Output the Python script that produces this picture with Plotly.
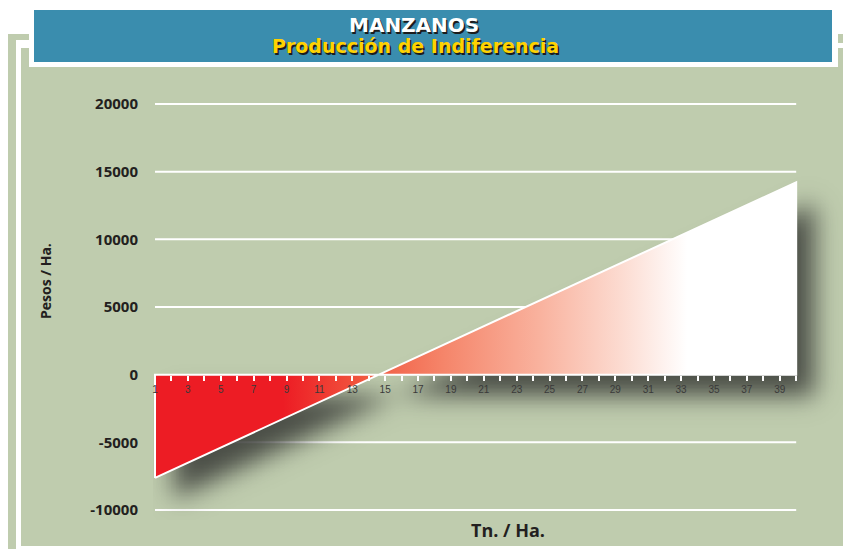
import numpy as np
import plotly.graph_objects as go

# datos (recta de indiferencia)
tn_ha = [1, 40]
pesos_ha = [-7630, 14220]

x_ticks = list(range(1, 41))
x_labels = [str(v) if v % 2 == 1 else "" for v in x_ticks]
y_ticks = [20000, 15000, 10000, 5000, 0, -5000, -10000]
y_labels = ["20000", "15000", "10000", "5000", "0", "-5000", "-10000"]
y_grid = [20000, 15000, 10000, 5000, -5000, -10000]

# la pagina deja 8px de margen en el body
OFF = 8
W, H = 851 - OFF, 549 - OFF
L, R, T, B = 145, 5, 87, 29
PW, PH = W - L - R, H - T - B
x_range = [0.878, 43.03]
y_range = [-10739, 20665]


def px(x):
    # x en pixeles de la imagen de referencia -> paper
    return (x - OFF - L) / PW


def py(y):
    return (H - B - (y - OFF)) / PH


green = "#bfccae"
blue = "#3a8dae"

fig = go.Figure()

# sombra difusa bajo la figura
xs = np.linspace(x_range[0], x_range[1], 420)
ys = np.linspace(y_range[0], y_range[1], 320)
X, Y = np.meshgrid(xs, ys)
dx, dy = 1.1, -1500
Xs, Ys = X - dx, Y - dy
lin = np.interp(Xs, tn_ha, pesos_ha)
dentro = (Xs >= tn_ha[0]) & (Xs <= tn_ha[-1]) & (
    ((Ys <= 0) & (Ys >= lin)) | ((Ys >= 0) & (Ys <= lin)))
mask = dentro.astype(float)


def gauss(sigma):
    k = np.arange(-3 * int(sigma), 3 * int(sigma) + 1)
    g = np.exp(-k ** 2 / (2 * sigma ** 2))
    return g / g.sum()


gx, gy = gauss(7.5), gauss(9.0)
mask = np.apply_along_axis(lambda r: np.convolve(r, gx, mode="same"), 1, mask)
mask = np.apply_along_axis(lambda c: np.convolve(c, gy, mode="same"), 0, mask)

fig.add_trace(go.Heatmap(
    x=xs, y=ys, z=mask, zmin=0, zmax=1, zsmooth="best",
    colorscale=[[0, "rgba(58,60,56,0)"], [1, "rgba(58,60,56,0.88)"]],
    showscale=False, hoverinfo="skip"
))

# area entre la recta y el cero
poly_x = [tn_ha[0], tn_ha[-1], tn_ha[-1], tn_ha[0], tn_ha[0]]
poly_y = [pesos_ha[0], pesos_ha[-1], 0, 0, pesos_ha[0]]
fig.add_trace(go.Scatter(
    x=poly_x, y=poly_y, mode="lines", fill="toself",
    line=dict(color="white", width=2),
    fillgradient=dict(
        type="horizontal", start=tn_ha[0], stop=tn_ha[-1],
        colorscale=[[0, "#ed1c24"], [0.2, "#ed1c24"], [0.33, "#f15a40"],
                    [0.45, "#f5856a"], [0.6, "#f9b29e"], [0.73, "#fcdcd2"],
                    [0.83, "#ffffff"], [1, "#ffffff"]]),
    showlegend=False, hoverinfo="skip"
))

shapes = [
    # marco exterior
    dict(type="rect", xref="paper", yref="paper", x0=px(6), x1=px(16), y0=py(552), y1=py(34),
         fillcolor=green, line_width=0, layer="below"),
    dict(type="rect", xref="paper", yref="paper", x0=px(6), x1=px(29), y0=py(40), y1=py(34),
         fillcolor=green, line_width=0, layer="below"),
    dict(type="rect", xref="paper", yref="paper", x0=px(838), x1=px(852), y0=py(43), y1=py(34),
         fillcolor=green, line_width=0, layer="below"),
    # panel
    dict(type="rect", xref="paper", yref="paper", x0=px(21), x1=px(847), y0=py(546), y1=py(48),
         fillcolor=green, line_width=0, layer="below"),
    # cabecera
    dict(type="rect", xref="paper", yref="paper", x0=px(29), x1=px(838), y0=py(67), y1=py(4),
         fillcolor="white", line_width=0, layer="below"),
    dict(type="rect", xref="paper", yref="paper", x0=px(34), x1=px(832), y0=py(62), y1=py(10),
         fillcolor=blue, line_width=0, layer="below"),
]
for g in y_grid:
    shapes.append(dict(type="line", xref="x", yref="y", x0=tn_ha[0], x1=tn_ha[-1], y0=g, y1=g,
                       line=dict(color="white", width=2), layer="below"))

annotations = [
    dict(text="MANZANOS", xref="paper", yref="paper", x=px(414), y=py(25),
         showarrow=False, xanchor="center", yanchor="middle",
         font=dict(family="DejaVu Sans", size=20, color="white", weight="bold",
                   shadow="1.5px 1.5px 0px #1c1c1c")),
    dict(text="Producción de Indiferencia", xref="paper", yref="paper", x=px(415), y=py(46),
         showarrow=False, xanchor="center", yanchor="middle",
         font=dict(family="DejaVu Sans", size=19, color="#ffd200", weight="bold",
                   shadow="1.5px 1.5px 0px #1c1c1c")),
    dict(text="Pesos / Ha.", xref="paper", yref="paper", x=px(45), y=py(281),
         showarrow=False, textangle=-90, xanchor="center", yanchor="middle",
         font=dict(family="Open Sans", size=14, color="#231f20", weight="bold")),
    dict(text="Tn. / Ha.", xref="paper", yref="paper", x=px(508), y=py(530),
         showarrow=False, xanchor="center", yanchor="middle",
         font=dict(family="Open Sans", size=18, color="#231f20", weight="bold")),
]

fig.update_layout(
    width=W, height=H,
    margin=dict(l=L, r=R, t=T, b=B),
    paper_bgcolor="white",
    plot_bgcolor="rgba(0,0,0,0)",
    shapes=shapes,
    annotations=annotations,
    showlegend=False,
    xaxis=dict(
        range=x_range, anchor="free", position=py(374.7),
        tickmode="array", tickvals=x_ticks, ticktext=x_labels,
        ticks="outside", ticklen=5, tickwidth=2, tickcolor="white",
        showline=False, showgrid=False, zeroline=False,
        tickfont=dict(family="Liberation Sans", size=10, color="#3a3a3a"),
        fixedrange=True
    ),
    yaxis=dict(
        range=y_range, tickmode="array", tickvals=y_ticks, ticktext=y_labels,
        ticks="", showline=False, showgrid=False, zeroline=False,
        ticklabelstandoff=14,
        tickfont=dict(family="Open Sans", size=15, color="#231f20", weight="bold"),
        fixedrange=True
    ),
)

fig.write_html("out.html")
